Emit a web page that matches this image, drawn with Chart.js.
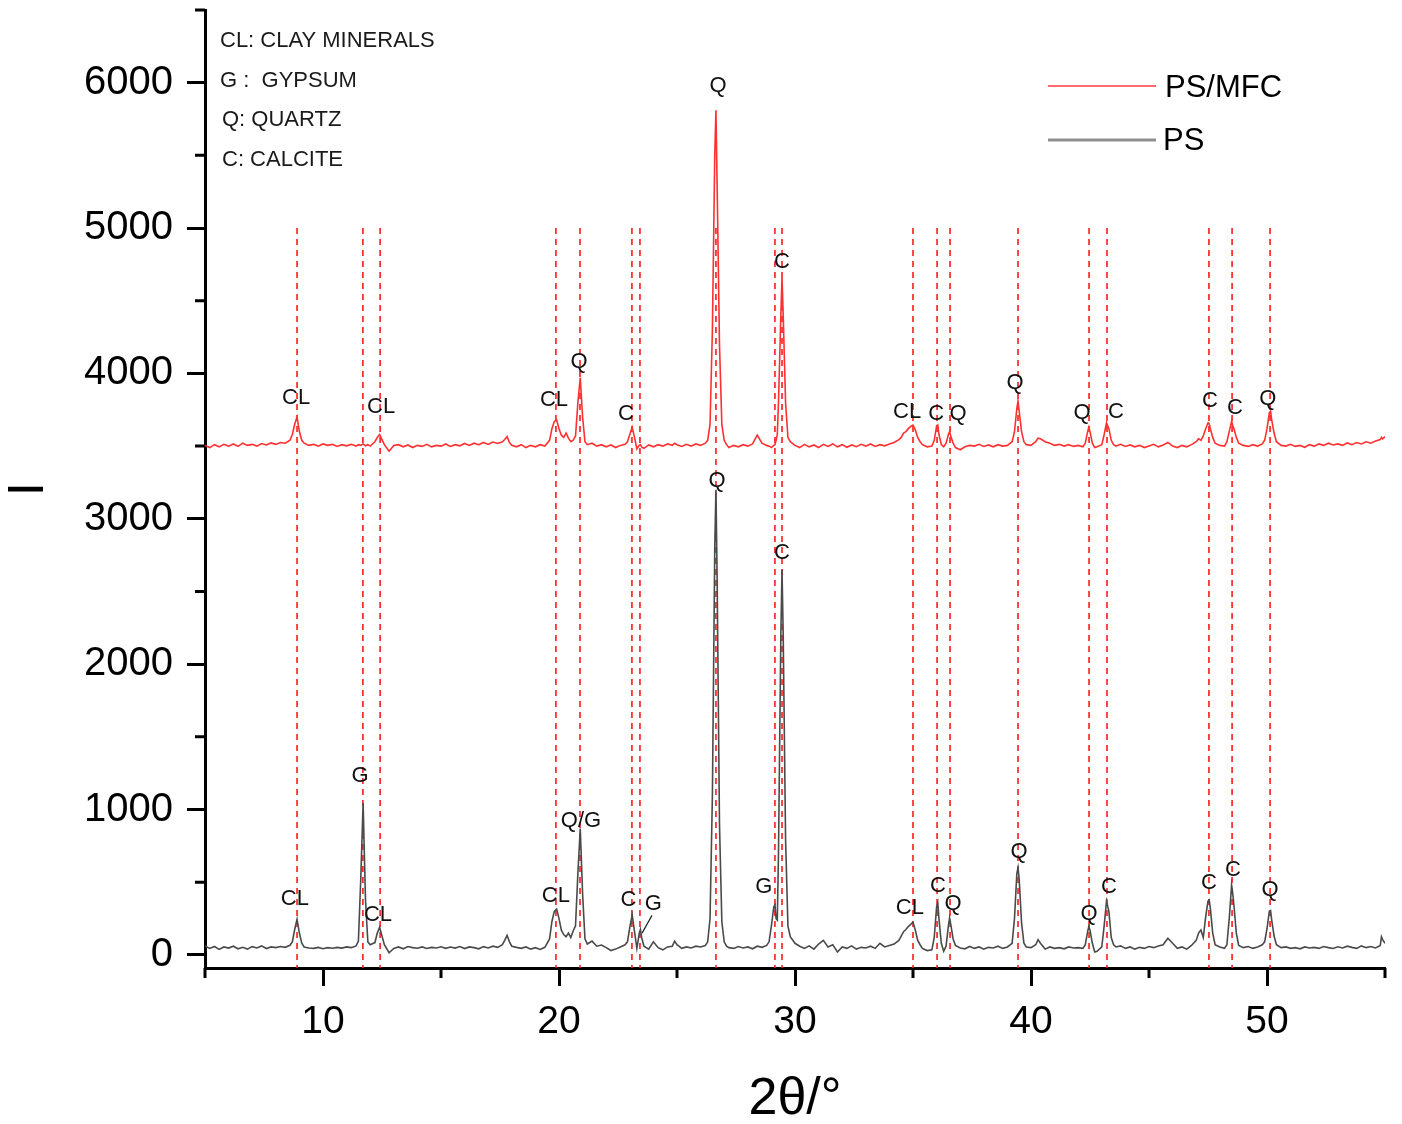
<!DOCTYPE html>
<html>
<head>
<meta charset="utf-8">
<script src="https://cdn.jsdelivr.net/npm/chart.js@4.4.1/dist/chart.umd.min.js"></script>
<style>
  html, body { margin: 0; padding: 0; background: #fff; }
</style>
</head>
<body>
<canvas id="xrdChart" width="1402" height="1124"></canvas>
<script>
// 2θ / intensity pairs
const psMfcData = [
  [5.0,3505],[5.2,3490],[5.4,3510],[5.6,3495],[5.8,3512],[6.0,3500],[6.2,3515],[6.4,3498],[6.6,3520],[6.8,3505],
  [7.0,3512],[7.2,3500],[7.4,3518],[7.6,3508],[7.8,3522],[8.0,3512],[8.2,3525],[8.4,3520],[8.6,3540],[8.7,3580],
  [8.8,3650],[8.9,3700],[9.0,3600],[9.1,3540],[9.2,3520],[9.4,3505],[9.6,3512],[9.8,3500],[10.0,3515],[10.2,3505],
  [10.4,3512],[10.6,3498],[10.8,3510],[11.0,3502],[11.2,3512],[11.4,3500],[11.5,3510],[11.6,3505],[11.7,3515],[11.8,3502],
  [11.9,3510],[12.0,3500],[12.2,3530],[12.3,3560],[12.4,3580],[12.5,3545],[12.6,3510],[12.8,3465],[13.0,3505],[13.2,3510],
  [13.4,3495],[13.6,3508],[13.8,3490],[14.0,3505],[14.2,3498],[14.4,3512],[14.6,3495],[14.8,3505],[15.0,3500],[15.2,3515],
  [15.4,3498],[15.6,3510],[15.8,3502],[16.0,3518],[16.2,3505],[16.4,3520],[16.6,3510],[16.8,3525],[17.0,3512],[17.2,3528],
  [17.4,3518],[17.6,3530],[17.7,3545],[17.8,3565],[17.9,3525],[18.0,3505],[18.2,3495],[18.4,3510],[18.6,3490],[18.8,3505],
  [19.0,3495],[19.2,3510],[19.4,3500],[19.6,3540],[19.7,3620],[19.8,3670],[19.9,3680],[20.0,3620],[20.1,3575],[20.2,3560],
  [20.3,3590],[20.4,3555],[20.5,3530],[20.6,3540],[20.7,3570],[20.8,3800],[20.9,3970],[21.0,3700],[21.1,3530],[21.2,3510],
  [21.4,3520],[21.6,3500],[21.8,3510],[22.0,3495],[22.2,3508],[22.4,3490],[22.6,3505],[22.8,3512],[22.9,3530],[23.0,3580],
  [23.1,3630],[23.2,3560],[23.3,3480],[23.4,3505],[23.45,3510],[23.5,3495],[23.6,3485],[23.8,3508],[24.0,3495],[24.2,3510],
  [24.4,3500],[24.6,3515],[24.8,3505],[24.9,3520],[25.0,3510],[25.2,3498],[25.4,3512],[25.6,3500],[25.8,3515],[26.0,3505],
  [26.2,3520],[26.3,3540],[26.4,3650],[26.5,4300],[26.6,5500],[26.65,5810],[26.7,5300],[26.8,4200],[26.9,3650],[27.0,3540],
  [27.1,3510],[27.2,3490],[27.4,3505],[27.6,3495],[27.8,3510],[28.0,3500],[28.2,3515],[28.4,3575],[28.6,3520],[28.8,3505],
  [28.9,3500],[29.0,3490],[29.1,3505],[29.15,3510],[29.2,3540],[29.25,3580],[29.3,3800],[29.4,4400],[29.45,4660],[29.5,4400],
  [29.6,3800],[29.7,3560],[29.8,3530],[30.0,3505],[30.2,3490],[30.4,3512],[30.6,3495],[30.8,3508],[31.0,3490],[31.2,3512],
  [31.4,3498],[31.6,3515],[31.8,3495],[32.0,3510],[32.2,3492],[32.4,3508],[32.6,3496],[32.8,3512],[33.0,3500],[33.2,3515],
  [33.4,3498],[33.6,3510],[33.8,3502],[34.0,3515],[34.2,3525],[34.4,3545],[34.5,3560],[34.6,3590],[34.7,3600],[34.8,3620],
  [34.9,3635],[35.0,3645],[35.1,3610],[35.2,3560],[35.3,3530],[35.4,3510],[35.6,3495],[35.8,3500],[35.9,3540],[36.0,3640],
  [36.05,3645],[36.1,3580],[36.2,3510],[36.3,3495],[36.4,3520],[36.5,3580],[36.55,3600],[36.6,3570],[36.7,3520],[36.8,3490],
  [37.0,3475],[37.2,3495],[37.4,3505],[37.6,3500],[37.8,3512],[38.0,3498],[38.2,3508],[38.4,3495],[38.6,3510],[38.8,3500],
  [39.0,3505],[39.2,3530],[39.3,3600],[39.4,3760],[39.45,3810],[39.5,3740],[39.6,3600],[39.7,3530],[39.8,3510],[40.0,3505],
  [40.2,3530],[40.3,3555],[40.4,3550],[40.6,3530],[40.8,3520],[41.0,3505],[41.2,3512],[41.4,3500],[41.6,3510],[41.8,3498],
  [42.0,3505],[42.2,3495],[42.3,3520],[42.4,3600],[42.45,3630],[42.5,3600],[42.6,3520],[42.7,3490],[42.8,3495],[43.0,3510],
  [43.1,3580],[43.2,3660],[43.3,3620],[43.4,3540],[43.5,3510],[43.6,3500],[43.8,3512],[44.0,3498],[44.2,3508],[44.4,3495],
  [44.6,3505],[44.8,3490],[45.0,3500],[45.2,3512],[45.4,3495],[45.6,3508],[45.8,3525],[46.0,3500],[46.2,3490],[46.4,3505],
  [46.6,3495],[46.8,3510],[47.0,3530],[47.1,3550],[47.2,3540],[47.3,3570],[47.4,3620],[47.5,3660],[47.55,3655],[47.6,3620],
  [47.7,3560],[47.8,3520],[48.0,3505],[48.2,3500],[48.3,3530],[48.4,3600],[48.5,3670],[48.55,3640],[48.6,3620],[48.7,3560],
  [48.8,3520],[49.0,3505],[49.2,3498],[49.4,3510],[49.6,3500],[49.8,3515],[49.9,3540],[50.0,3620],[50.1,3730],[50.15,3740],
  [50.2,3680],[50.3,3590],[50.4,3530],[50.6,3505],[50.8,3500],[51.0,3512],[51.2,3498],[51.4,3505],[51.6,3492],[51.8,3510],
  [52.0,3500],[52.2,3515],[52.4,3505],[52.6,3520],[52.8,3508],[53.0,3515],[53.2,3505],[53.4,3522],[53.6,3510],[53.8,3525],
  [54.0,3515],[54.2,3530],[54.4,3520],[54.6,3535],[54.8,3545],[54.85,3560],[54.9,3550],[55.0,3565]
];

const psData = [
  [5.0,62],[5.2,45],[5.4,58],[5.6,38],[5.8,55],[6.0,47],[6.2,60],[6.4,42],[6.6,52],[6.8,40],
  [7.0,57],[7.2,48],[7.4,62],[7.6,44],[7.8,55],[8.0,50],[8.2,58],[8.4,52],[8.6,66],[8.7,90],
  [8.8,175],[8.9,245],[9.0,150],[9.1,80],[9.2,55],[9.4,48],[9.6,45],[9.8,52],[10.0,43],[10.2,50],
  [10.4,46],[10.6,52],[10.8,47],[11.0,55],[11.2,50],[11.4,62],[11.5,95],[11.6,520],[11.7,1045],[11.8,380],
  [11.9,90],[12.0,70],[12.2,85],[12.3,150],[12.4,190],[12.5,130],[12.6,70],[12.8,15],[13.0,45],[13.2,55],
  [13.4,42],[13.6,58],[13.8,50],[14.0,46],[14.2,55],[14.4,44],[14.6,52],[14.8,48],[15.0,56],[15.2,45],
  [15.4,54],[15.6,47],[15.8,58],[16.0,44],[16.2,55],[16.4,50],[16.6,42],[16.8,57],[17.0,48],[17.2,60],
  [17.4,52],[17.6,70],[17.7,100],[17.8,135],[17.9,90],[18.0,60],[18.2,52],[18.4,45],[18.6,55],[18.8,40],
  [19.0,50],[19.2,38],[19.4,52],[19.6,110],[19.7,230],[19.8,300],[19.9,315],[20.0,250],[20.1,170],[20.2,140],
  [20.3,125],[20.4,150],[20.5,120],[20.6,165],[20.7,200],[20.8,560],[20.9,870],[21.0,420],[21.1,110],[21.2,75],
  [21.4,95],[21.6,60],[21.8,68],[22.0,50],[22.2,30],[22.4,40],[22.6,55],[22.8,70],[22.9,90],[23.0,190],
  [23.1,275],[23.2,160],[23.3,45],[23.4,150],[23.45,175],[23.5,120],[23.6,60],[23.8,40],[24.0,90],[24.2,50],
  [24.4,35],[24.6,55],[24.8,60],[24.9,95],[25.0,70],[25.2,45],[25.4,55],[25.6,48],[25.8,60],[26.0,55],
  [26.2,65],[26.3,90],[26.4,250],[26.5,1100],[26.6,2800],[26.65,3200],[26.7,2600],[26.8,900],[26.9,230],[27.0,90],
  [27.1,60],[27.2,50],[27.4,45],[27.6,58],[27.8,48],[28.0,55],[28.2,42],[28.4,60],[28.6,52],[28.8,65],
  [28.9,90],[29.0,200],[29.1,330],[29.15,345],[29.2,250],[29.25,240],[29.3,700],[29.4,2200],[29.45,2650],[29.5,2200],
  [29.6,800],[29.7,200],[29.8,125],[30.0,80],[30.2,60],[30.4,45],[30.6,62],[30.8,40],[31.0,75],[31.2,100],
  [31.4,55],[31.6,70],[31.8,20],[32.0,55],[32.2,45],[32.4,62],[32.6,40],[32.8,52],[33.0,48],[33.2,60],
  [33.4,45],[33.6,80],[33.8,55],[34.0,65],[34.2,75],[34.4,100],[34.5,130],[34.6,160],[34.7,175],[34.8,195],
  [34.9,210],[35.0,225],[35.1,170],[35.2,100],[35.3,70],[35.4,45],[35.6,30],[35.8,35],[35.9,120],[36.0,330],
  [36.05,360],[36.1,250],[36.2,80],[36.3,25],[36.4,60],[36.5,200],[36.55,255],[36.6,210],[36.7,110],[36.8,65],
  [37.0,48],[37.2,42],[37.4,58],[37.6,45],[37.8,55],[38.0,40],[38.2,52],[38.4,48],[38.6,60],[38.8,45],
  [39.0,55],[39.2,80],[39.3,250],[39.4,560],[39.45,600],[39.5,520],[39.6,220],[39.7,80],[39.8,55],[40.0,50],
  [40.2,70],[40.3,105],[40.4,80],[40.6,40],[40.8,55],[41.0,45],[41.2,50],[41.4,42],[41.6,55],[41.8,48],
  [42.0,50],[42.2,45],[42.3,70],[42.4,160],[42.45,195],[42.5,170],[42.6,80],[42.7,20],[42.8,25],[43.0,55],
  [43.1,200],[43.2,370],[43.3,300],[43.4,120],[43.5,70],[43.6,55],[43.8,62],[44.0,45],[44.2,55],[44.4,40],
  [44.6,52],[44.8,45],[45.0,58],[45.2,50],[45.4,62],[45.6,70],[45.8,115],[46.0,80],[46.2,45],[46.4,55],
  [46.6,40],[46.8,65],[47.0,100],[47.1,150],[47.2,172],[47.3,120],[47.4,260],[47.5,370],[47.55,378],[47.6,320],
  [47.7,150],[47.8,70],[48.0,55],[48.2,45],[48.3,70],[48.4,250],[48.5,480],[48.55,420],[48.6,340],[48.7,150],
  [48.8,65],[49.0,50],[49.2,58],[49.4,45],[49.6,55],[49.8,70],[49.9,90],[50.0,180],[50.1,300],[50.15,305],
  [50.2,240],[50.3,130],[50.4,70],[50.6,50],[50.8,55],[51.0,45],[51.2,50],[51.4,42],[51.6,55],[51.8,48],
  [52.0,52],[52.2,45],[52.4,58],[52.6,50],[52.8,44],[53.0,56],[53.2,48],[53.4,60],[53.6,52],[53.8,45],
  [54.0,62],[54.2,50],[54.4,58],[54.6,48],[54.8,65],[54.85,125],[54.9,105],[55.0,80]
];

// reference peak positions (red dashed lines), drawn from the axis up to refTop
const refLines = [8.9, 11.69, 12.42, 19.87, 20.89, 23.09, 23.43, 26.65, 29.15, 29.45,
                  35.0, 36.02, 36.57, 39.45, 42.46, 43.22, 47.54, 48.52, 50.13];
const refTop = 5000;

// peak labels: [2θ, I, text]
const mfcLabels = [
  [8.86,3833,'CL'],[12.46,3771,'CL'],[19.79,3820,'CL'],[20.85,4081,'Q'],[22.84,3723,'C'],
  [26.74,5981,'Q'],[29.45,4769,'C'],[34.75,3737,'CL'],[35.98,3723,'C'],[36.91,3723,'Q'],
  [39.32,3937,'Q'],[42.16,3730,'Q'],[43.6,3737,'C'],[47.58,3813,'C'],[48.64,3765,'C'],[50.03,3827,'Q']
];
const psLabels = [
  [8.81,385,'CL'],[11.57,1232,'G'],[12.33,275,'CL'],[19.87,406,'CL'],[20.93,922,'Q/G'],
  [22.94,378,'C'],[24.0,351,'G'],[26.7,3262,'Q'],[28.68,465,'G'],[29.45,2767,'C'],
  [34.87,326,'CL'],[36.06,472,'C'],[36.7,348,'Q'],[39.49,705,'Q'],[42.46,279,'Q'],
  [43.3,465,'C'],[47.54,492,'C'],[48.56,585,'C'],[50.13,447,'Q']
];
// leader line from the small "G" label to the 23.4° peak
const gLeader = [[23.94, 272], [23.52, 150]];

const mineralKey = ['CL: CLAY MINERALS', 'G :  GYPSUM', 'Q: QUARTZ', 'C: CALCITE'];

const xMajor = [10, 20, 30, 40, 50];
const xMinor = [5, 15, 25, 35, 45, 55];
const yMajor = [0, 1000, 2000, 3000, 4000, 5000, 6000];
const yMinor = [500, 1500, 2500, 3500, 4500, 5500, 6500];

const FONT = "'Liberation Sans', Arial, sans-serif";
Chart.defaults.font.family = FONT;
Chart.defaults.color = '#000';

const overlay = {
  id: 'overlay',
  beforeDatasetsDraw(chart) {
    const { ctx, chartArea, scales: { x, y } } = chart;
    ctx.save();
    ctx.strokeStyle = '#ff1a1a';
    ctx.lineWidth = 1.6;
    ctx.setLineDash([6, 5]);
    refLines.forEach(t => {
      const px = x.getPixelForValue(t);
      ctx.beginPath();
      ctx.moveTo(px, y.getPixelForValue(refTop));
      ctx.lineTo(px, chartArea.bottom);
      ctx.stroke();
    });
    ctx.restore();
  },
  afterDraw(chart) {
    const { ctx, chartArea, scales: { x, y } } = chart;
    ctx.save();

    // minor ticks (shorter than the major ones)
    ctx.strokeStyle = '#000';
    ctx.lineWidth = 3;
    ctx.beginPath();
    xMinor.forEach(v => {
      const px = x.getPixelForValue(v);
      ctx.moveTo(px, chartArea.bottom);
      ctx.lineTo(px, chartArea.bottom + 10);
    });
    yMinor.forEach(v => {
      const py = y.getPixelForValue(v);
      ctx.moveTo(chartArea.left - 10, py);
      ctx.lineTo(chartArea.left, py);
    });
    ctx.stroke();

    // peak labels
    ctx.fillStyle = '#111';
    ctx.font = '22px ' + FONT;
    ctx.textAlign = 'center';
    ctx.textBaseline = 'middle';
    mfcLabels.concat(psLabels).forEach(([t, v, s]) => {
      ctx.fillText(s, x.getPixelForValue(t), y.getPixelForValue(v));
    });
    ctx.strokeStyle = '#222';
    ctx.lineWidth = 1.2;
    ctx.beginPath();
    ctx.moveTo(x.getPixelForValue(gLeader[0][0]), y.getPixelForValue(gLeader[0][1]));
    ctx.lineTo(x.getPixelForValue(gLeader[1][0]), y.getPixelForValue(gLeader[1][1]));
    ctx.stroke();

    // mineral key, top left
    ctx.textAlign = 'left';
    ctx.fillStyle = '#1a1a1a';
    ctx.font = '22px ' + FONT;
    mineralKey.forEach((s, i) => {
      ctx.fillText(s, 220 + (i > 1 ? 2 : 0), 41 + i * 39.7);
    });

    // legend
    const ds = chart.data.datasets;
    ctx.font = '31px ' + FONT;
    ctx.fillStyle = '#000';
    ctx.lineWidth = 2;
    ctx.strokeStyle = '#ff6b6b';
    ctx.beginPath(); ctx.moveTo(1048, 86); ctx.lineTo(1156, 86); ctx.stroke();
    ctx.fillText(ds[0].label, 1165, 88);
    ctx.lineWidth = 3;
    ctx.strokeStyle = '#8f8f8f';
    ctx.beginPath(); ctx.moveTo(1048, 140); ctx.lineTo(1156, 140); ctx.stroke();
    ctx.fillText(ds[1].label, 1163, 141);

    ctx.restore();
  }
};

new Chart(document.getElementById('xrdChart'), {
  type: 'line',
  data: {
    datasets: [
      {
        label: 'PS/MFC',
        data: psMfcData,
        borderColor: '#ff3030',
        borderWidth: 1.6,
        pointRadius: 0,
        tension: 0
      },
      {
        label: 'PS',
        data: psData,
        borderColor: '#4a4a4a',
        borderWidth: 1.6,
        pointRadius: 0,
        tension: 0
      }
    ]
  },
  options: {
    responsive: false,
    animation: false,
    layout: { padding: { top: 10, right: 17, left: 0, bottom: 0 } },
    plugins: {
      legend: { display: false },
      tooltip: { enabled: false }
    },
    scales: {
      x: {
        type: 'linear',
        min: 5,
        max: 55,
        afterBuildTicks: s => { s.ticks = xMinor.concat(xMajor).sort((a, b) => a - b).map(v => ({ value: v })); },
        afterFit: s => { s.height = 156; s.paddingLeft = 0; s.paddingRight = 0; },
        ticks: {
          font: { size: 39 },
          padding: 13,
          maxRotation: 0,
          autoSkip: false,
          callback: v => xMajor.includes(v) ? String(v) : null
        },
        grid: {
          drawOnChartArea: false,
          tickLength: 18,
          tickWidth: 3,
          tickColor: c => xMajor.includes(c.tick.value) ? '#000' : 'transparent'
        },
        border: { display: true, color: '#000', width: 3 },
        title: {
          display: true,
          text: '2θ/°',
          font: { size: 52, lineHeight: 1 },
          padding: { top: 0, bottom: -2 }
        }
      },
      y: {
        min: -90,
        max: 6500,
        afterBuildTicks: s => { s.ticks = yMajor.concat(yMinor).sort((a, b) => a - b).map(v => ({ value: v })); },
        afterFit: s => { s.width = 205; s.paddingTop = 0; s.paddingBottom = 0; },
        ticks: {
          font: { size: 40 },
          padding: 14,
          autoSkip: false,
          callback: v => yMajor.includes(v) ? String(v) : null
        },
        grid: {
          drawOnChartArea: false,
          tickLength: 18,
          tickWidth: 3,
          tickColor: c => yMajor.includes(c.tick.value) ? '#000' : 'transparent'
        },
        border: { display: true, color: '#000', width: 3 },
        title: {
          display: true,
          text: 'I',
          font: { size: 50, lineHeight: 1 },
          padding: { top: 4, bottom: 0 }
        }
      }
    }
  },
  plugins: [overlay]
});
</script>
</body>
</html>
